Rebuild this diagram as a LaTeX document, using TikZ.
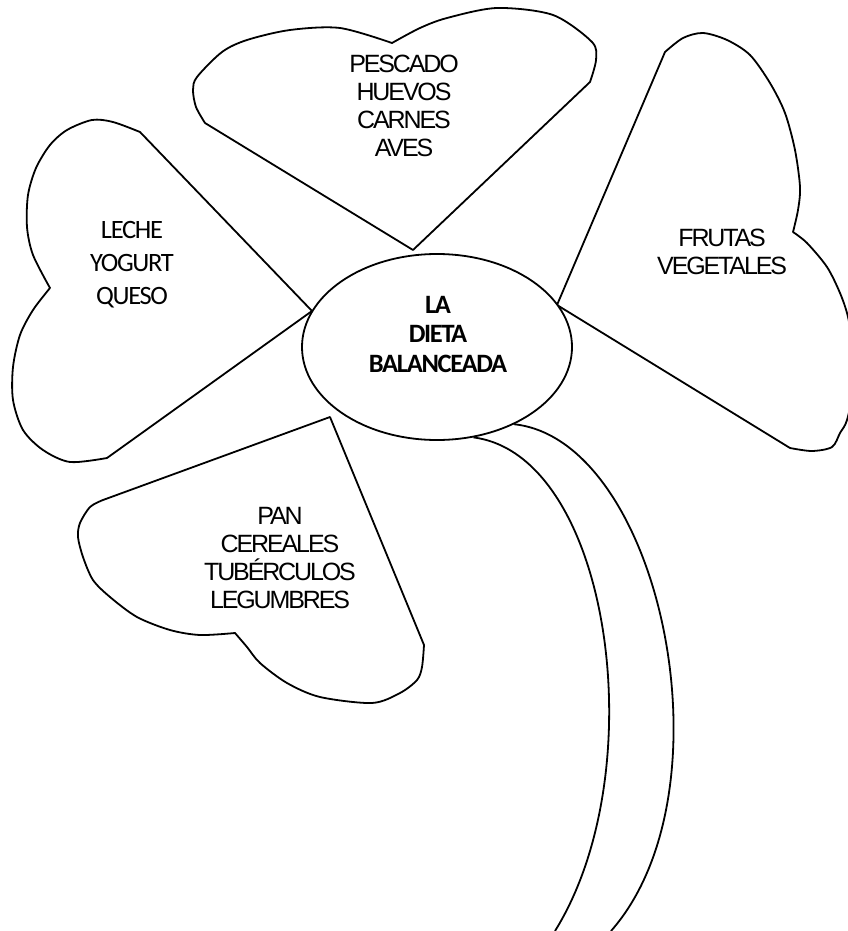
\documentclass[tikz,border=0pt]{standalone}
\usepackage{fontspec}
\setmainfont{Liberation Sans}
\newfontfamily\arialapretada{Liberation Sans}[LetterSpace=-8.5]
\newfontfamily\calibriapretada{Carlito}[LetterSpace=-5]
\usetikzlibrary{shapes.geometric}

\begin{document}
\begin{tikzpicture}[x=1pt,y=-1pt,every text node part/.style={align=center}]

\tikzstyle{petalo} = [draw, line width=1.8pt, line join=round]
\tikzstyle{centro} = [ellipse, draw, line width=1.8pt, fill=white, minimum width=270pt, minimum height=186pt, inner sep=0]
\tikzstyle{tallo} = [draw, line width=1.8pt]
\tikzstyle{grupo} = [inner sep=0, font=\fontsize{25}{28}\arialapretada]
\tikzstyle{grupoc} = [inner sep=0, font=\fontsize{26.5}{33}\calibriapretada]
\tikzstyle{titulo} = [inner sep=0, font=\fontsize{26.5}{29.5}\calibriapretada\bfseries]

\useasboundingbox (0,0) rectangle (848,931);

% petalo de arriba
\draw[petalo] (413,250) -- (205,123)
  -- plot[smooth] coordinates {(205,123) (196,107) (193,90) (197,77) (222,52) (247,40) (290,30) (340,28) (392,43)}
  -- plot[smooth] coordinates {(392,43) (420,28) (447,18) (497,8) (553,15) (592,42) (596,60) (590,82)}
  -- cycle;

% petalo izquierdo
\draw[petalo] (312,311) -- (140,132)
  -- plot[smooth] coordinates {(140,132) (113,122) (92,120) (67,130) (50,145) (36,168) (28,195) (27,227) (33,255) (50,288)}
  -- plot[smooth] coordinates {(50,288) (33,310) (20,335) (13,367) (13,400) (23,430) (43,450) (70,462) (107,458)}
  -- cycle;

% petalo derecho
\draw[petalo] (557,305) -- (665,52)
  -- plot[smooth] coordinates {(665,52) (683,38) (703,33) (727,40) (750,55) (770,83) (785,113) (795,150) (800,187) (798,210) (793,232)}
  -- plot[smooth] coordinates {(793,232) (807,243) (827,267) (840,293) (848,317) (853,350) (854,385) (847,420) (840,433) (832,447) (812,451) (790,448)}
  -- cycle;

% petalo de abajo
\draw[petalo] (330,417) -- (103,500)
  -- plot[smooth] coordinates {(103,500) (90,507) (80,523) (78,537) (83,557) (93,580) (110,597) (137,617) (170,630) (200,635) (235,633)}
  -- plot[smooth] coordinates {(235,633) (247,647) (260,663) (287,683) (320,697) (372,703) (400,693) (417,680) (422,667) (424,645)}
  -- cycle;

\node[centro] (dieta) at (437,347) {};

% tallo
\coordinate (raizA) at (555,931);
\coordinate (raizB) at (611,931);
\draw[tallo] (dieta.-68) .. controls (610,455) and (655,770) .. (raizA);
\draw[tallo] (dieta.-45) .. controls (660,440) and (735,790) .. (raizB);

\node[titulo] (titulo) at (438,334) {LA\\DIETA\\BALANCEADA};
\node[grupo] (proteinas) at (404,106) {PESCADO\\HUEVOS\\CARNES\\AVES};
\node[grupoc] (lacteos) at (132,265) {LECHE\\YOGURT\\QUESO};
\node[grupo, anchor=west, align=left] (frutas) at (657,252) {FRUTAS\\VEGETALES};
\node[grupo] (cereales) at (280,558) {PAN\\CEREALES\\TUBÉRCULOS\\LEGUMBRES};

\end{tikzpicture}
\end{document}
